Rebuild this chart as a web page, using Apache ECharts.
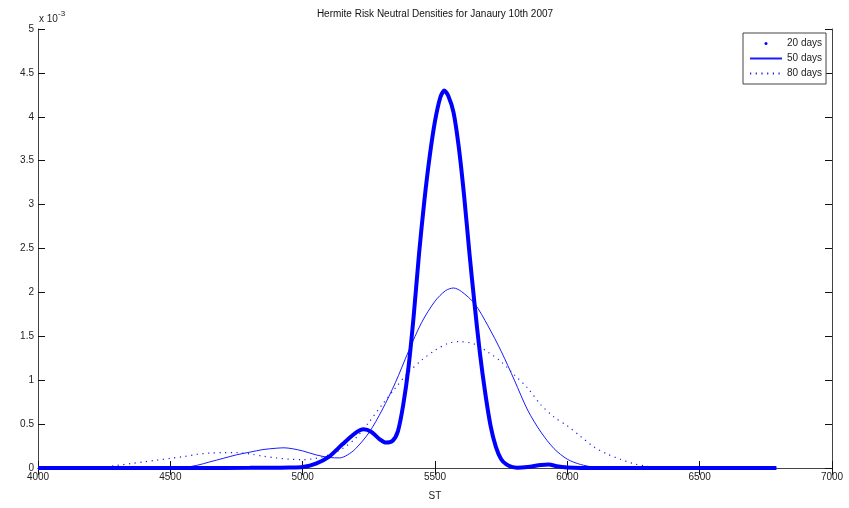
<!DOCTYPE html>
<html>
<head>
<meta charset="utf-8">
<script src="https://cdn.jsdelivr.net/npm/echarts@6/dist/echarts.min.js"></script>
<style>
  html, body { margin: 0; padding: 0; background: #fff; }
  #chart { width: 849px; height: 508px; }
</style>
</head>
<body>
<div id="chart"></div>
<script>
// Risk neutral densities (units of 1e-3) over terminal index level ST
const stX20 = [4000, 4300, 4600, 4800, 4900, 4950, 5000, 5050, 5100, 5150, 5200, 5230, 5260, 5290, 5315, 5340, 5360,
  5380, 5400, 5420, 5440, 5460, 5480, 5500, 5520, 5535, 5550, 5570, 5590, 5610, 5630, 5650, 5670, 5690,
  5710, 5730, 5750, 5770, 5790, 5810, 5850, 5900, 5930, 5960, 6000, 6050, 6300, 6600, 6790];
const dens20 = [0, 0, 0, 0.002, 0.004, 0.006, 0.012, 0.05, 0.13, 0.27, 0.40, 0.44, 0.41, 0.33, 0.29, 0.31, 0.42,
  0.72, 1.15, 1.75, 2.45, 3.05, 3.55, 3.95, 4.22, 4.30, 4.24, 4.05, 3.65, 3.10, 2.45, 1.85, 1.30, 0.85,
  0.48, 0.24, 0.10, 0.04, 0.012, 0.004, 0.012, 0.035, 0.04, 0.02, 0.005, 0, 0, 0, 0];

const stX50 = [4000, 4300, 4500, 4550, 4600, 4650, 4700, 4750, 4800, 4850, 4900, 4930, 4960, 5000, 5050, 5100,
  5140, 5170, 5200, 5250, 5300, 5350, 5400, 5450, 5500, 5540, 5570, 5600, 5650, 5700, 5750, 5800, 5850,
  5900, 5950, 6000, 6050, 6100, 6150, 6400, 6790];
const dens50 = [0, 0, 0, 0.005, 0.03, 0.07, 0.11, 0.15, 0.18, 0.21, 0.225, 0.23, 0.22, 0.195, 0.15, 0.12,
  0.115, 0.15, 0.22, 0.40, 0.66, 0.97, 1.33, 1.66, 1.90, 2.02, 2.05, 2.01, 1.87, 1.62, 1.33, 1.00, 0.66,
  0.41, 0.22, 0.10, 0.04, 0.01, 0, 0, 0];

const stX80 = [4000, 4200, 4250, 4300, 4350, 4400, 4450, 4500, 4550, 4600, 4650, 4700, 4750, 4800, 4850, 4900,
  4950, 5000, 5050, 5100, 5150, 5200, 5250, 5300, 5350, 5400, 5450, 5500, 5550, 5590, 5650, 5700, 5750,
  5800, 5850, 5900, 5950, 6000, 6050, 6100, 6150, 6200, 6250, 6300, 6350, 6400, 6790];
const dens80 = [0, 0, 0.01, 0.03, 0.05, 0.07, 0.09, 0.11, 0.13, 0.155, 0.17, 0.175, 0.175, 0.16, 0.135, 0.115,
  0.10, 0.095, 0.11, 0.15, 0.22, 0.34, 0.52, 0.72, 0.91, 1.09, 1.23, 1.34, 1.42, 1.44, 1.41, 1.32, 1.21,
  1.06, 0.91, 0.72, 0.58, 0.48, 0.36, 0.24, 0.16, 0.10, 0.05, 0.02, 0.005, 0, 0];

const seriesNames = ['20 days', '50 days', '80 days'];
const xTicks = { min: 4000, max: 7000, step: 500 };
const yTicks = { min: 0, max: 5, step: 0.5 };

const pairs = (xs, ys) => xs.map((x, i) => [x, ys[i]]);
const plain = v => String(v);

const FONT = "'Liberation Sans', Arial, Helvetica, sans-serif";
const BLUE = '#0000ff';
const AXIS_COLOR = '#444';
const TEXT_COLOR = '#222';

const baseX = {
  type: 'value', min: xTicks.min, max: xTicks.max, interval: xTicks.step,
  splitLine: { show: false },
  axisLine: { show: true, lineStyle: { color: AXIS_COLOR, width: 1 } },
  axisTick: { show: true, inside: true, length: 7, lineStyle: { color: '#111' } }
};
const baseY = {
  type: 'value', min: yTicks.min, max: yTicks.max, interval: yTicks.step,
  splitLine: { show: false },
  axisLine: { show: true, lineStyle: { color: AXIS_COLOR, width: 1 } },
  axisTick: { show: true, inside: true, length: 7, lineStyle: { color: '#111' } }
};

const chart = echarts.init(document.getElementById('chart'), null, { renderer: 'canvas' });

chart.setOption({
  animation: false,
  backgroundColor: '#fff',
  textStyle: { fontFamily: FONT },
  grid: { left: 38, right: 17, top: 29, bottom: 40, containLabel: false },
  xAxis: [
    Object.assign({}, baseX, {
      position: 'bottom',
      name: 'ST', nameLocation: 'middle', nameGap: 23,
      nameTextStyle: { color: TEXT_COLOR, fontSize: 10, fontFamily: FONT },
      axisLabel: { show: true, margin: 4, color: TEXT_COLOR, fontSize: 10, fontFamily: FONT, formatter: plain }
    }),
    Object.assign({}, baseX, { position: 'top', axisLabel: { show: false } })
  ],
  yAxis: [
    Object.assign({}, baseY, {
      position: 'left',
      axisLabel: { show: true, margin: 4, color: TEXT_COLOR, fontSize: 10, fontFamily: FONT, formatter: plain }
    }),
    Object.assign({}, baseY, { position: 'right', axisLabel: { show: false } })
  ],
  legend: {
    orient: 'vertical',
    left: 743, top: 33,
    padding: [4, 4, 4, 6],
    itemGap: 2,
    itemWidth: 32, itemHeight: 3,
    backgroundColor: '#fff',
    borderColor: '#444', borderWidth: 1, borderRadius: 0,
    textStyle: { color: TEXT_COLOR, fontSize: 10, fontFamily: FONT, lineHeight: 13 },
    data: [
      { name: seriesNames[0], icon: 'circle' },
      { name: seriesNames[1], itemStyle: { color: 'rgba(0,0,0,0)' } },
      { name: seriesNames[2], itemStyle: { color: 'rgba(0,0,0,0)' } }
    ]
  },
  graphic: [
    {
      type: 'text', x: 435, y: 14,
      style: { text: 'Hermite Risk Neutral Densities for Janaury 10th 2007', fill: '#111',
        font: '10px ' + FONT, align: 'center', verticalAlign: 'middle' }
    },
    {
      type: 'text', x: 39, y: 19,
      style: { text: 'x 10', fill: TEXT_COLOR, font: '10px ' + FONT, align: 'left', verticalAlign: 'middle' }
    },
    {
      type: 'text', x: 58, y: 14,
      style: { text: '-3', fill: TEXT_COLOR, font: '8px ' + FONT, align: 'left', verticalAlign: 'middle' }
    }
  ],
  series: [
    {
      name: seriesNames[0], type: 'line', data: pairs(stX20, dens20),
      xAxisIndex: 0, yAxisIndex: 0,
      smooth: 0.25, symbol: 'circle', symbolSize: 4, showSymbol: false,
      clip: false,
      itemStyle: { color: BLUE },
      lineStyle: { color: BLUE, width: 4 },
      z: 4
    },
    {
      name: seriesNames[1], type: 'line', data: pairs(stX50, dens50),
      xAxisIndex: 0, yAxisIndex: 0,
      smooth: 0.3, symbol: 'none', clip: false,
      itemStyle: { color: BLUE },
      lineStyle: { color: '#1a1aff', width: 1 },
      z: 3
    },
    {
      name: seriesNames[2], type: 'line', data: pairs(stX80, dens80),
      xAxisIndex: 0, yAxisIndex: 0,
      smooth: 0.3, symbol: 'none', clip: false,
      itemStyle: { color: BLUE },
      lineStyle: { color: '#1a1aff', width: 1.2, type: [1.2, 4.5] },
      z: 3
    }
  ]
});
</script>
</body>
</html>
